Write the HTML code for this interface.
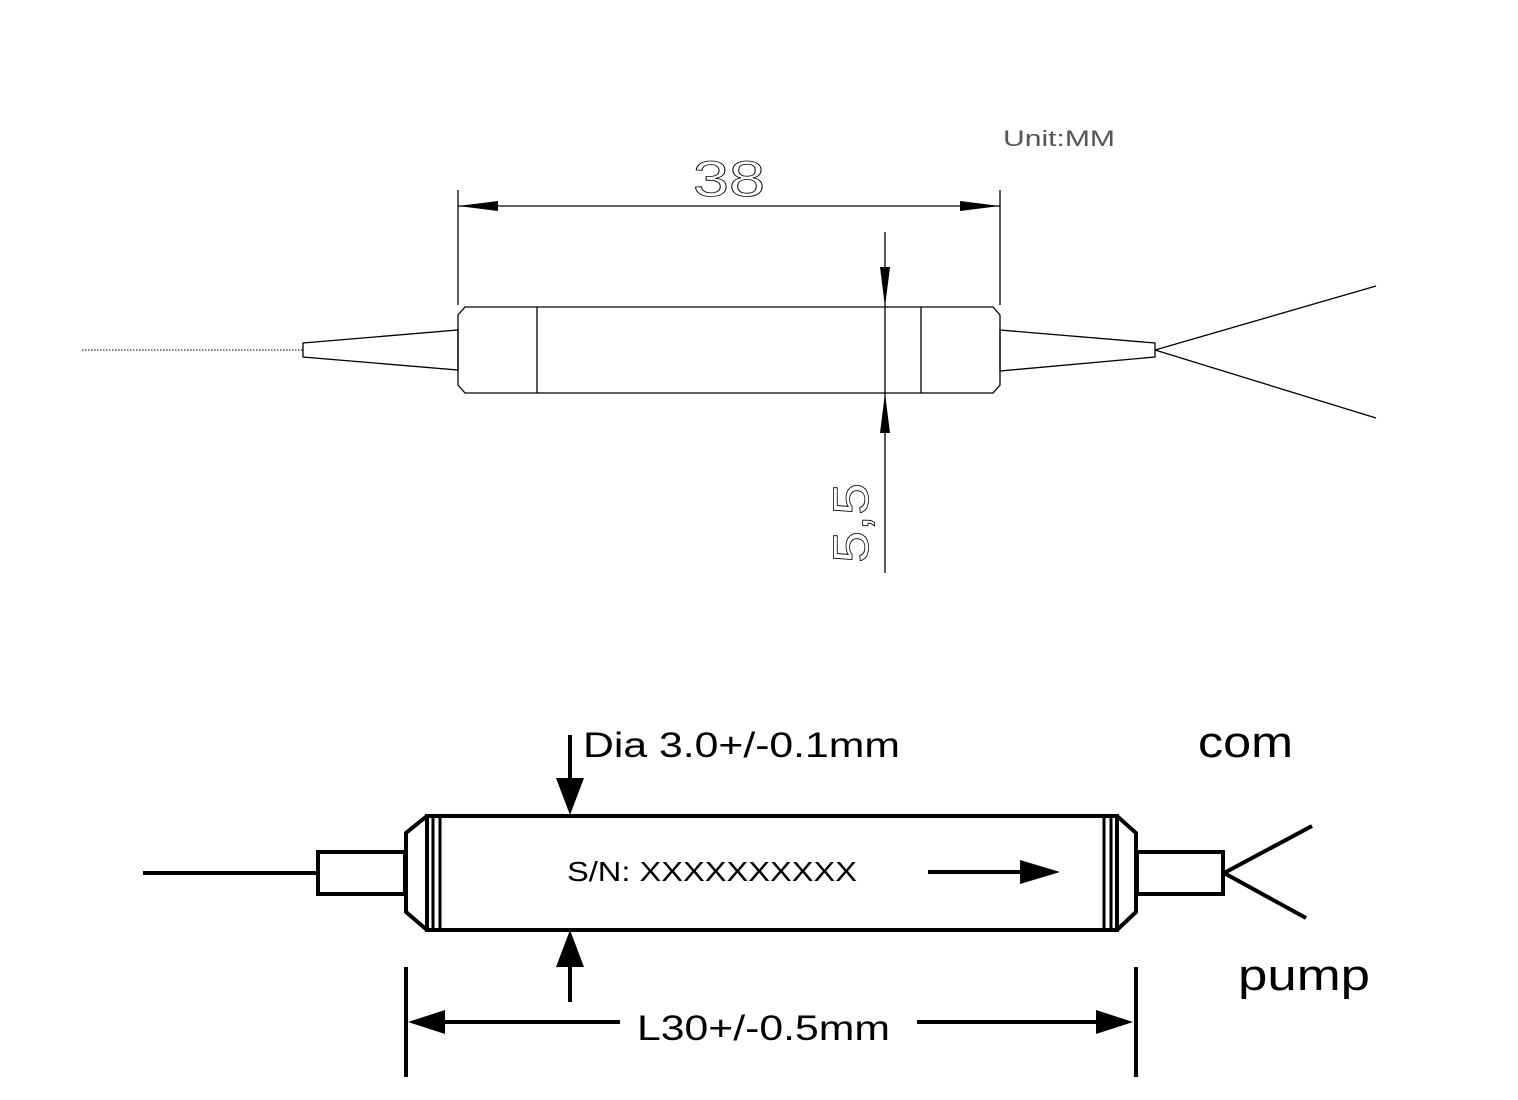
<!DOCTYPE html>
<html><head><style>body{margin:0;background:#fff}svg{display:block}</style></head><body>
<svg width="1518" height="1100" viewBox="0 0 1518 1100" xmlns="http://www.w3.org/2000/svg">
<g fill="none" stroke="#000" stroke-width="1.3">
<line x1="82" y1="350" x2="303" y2="350" stroke-dasharray="1.5,1.5" stroke-width="1"/>
<polygon points="303,343 458,330 458,370 303,357"/>
<polygon points="465,307 993,307 1000,315 1000,385 993,393 465,393 458,385 458,315"/>
<line x1="537" y1="307" x2="537" y2="393"/>
<line x1="921" y1="307" x2="921" y2="393"/>
<polygon points="1000,330 1155,343 1155,357 1000,371"/>
<line x1="1155" y1="350" x2="1376" y2="286"/>
<line x1="1155" y1="350" x2="1376" y2="418"/>
<line x1="458" y1="190" x2="458" y2="305"/>
<line x1="1000" y1="190" x2="1000" y2="305"/>
<line x1="458" y1="206" x2="1000" y2="206"/>
<line x1="885" y1="232" x2="885" y2="573"/>
</g>
<g fill="#000">
<polygon points="458,206 498,201 498,211"/>
<polygon points="1000,206 960,201 960,211"/>
<polygon points="885,307 880,267 890,267"/>
<polygon points="885,393 880,433 890,433"/>
</g>
<text x="693" y="196" textLength="72" lengthAdjust="spacingAndGlyphs" font-family="Liberation Sans, sans-serif" font-size="50" fill="none" stroke="#000" stroke-width="0.8">38</text>
<text x="1003" y="146" textLength="112" lengthAdjust="spacingAndGlyphs" font-family="Liberation Sans, sans-serif" font-size="22" fill="#555">Unit:MM</text>
<text transform="translate(868,563) rotate(-90)" textLength="80" lengthAdjust="spacingAndGlyphs" font-family="Liberation Sans, sans-serif" font-size="50" fill="none" stroke="#000" stroke-width="0.8">5,5</text>

<g fill="none" stroke="#000" stroke-width="4">
<line x1="143" y1="873" x2="318" y2="873"/>
<rect x="318" y="852" width="87" height="42"/>
<rect x="427" y="816" width="690" height="114"/>
<polyline points="427,816 406,833 406,912 427,930"/>
<line x1="433" y1="816" x2="433" y2="930" stroke-width="3"/>
<line x1="440" y1="816" x2="440" y2="930" stroke-width="3"/>
<line x1="1104" y1="816" x2="1104" y2="930" stroke-width="3"/>
<line x1="1111" y1="816" x2="1111" y2="930" stroke-width="3"/>
<polyline points="1117,816 1136,833 1136,912 1117,930"/>
<rect x="1137" y="852" width="86" height="42"/>
<line x1="1224" y1="873" x2="1312" y2="826"/>
<line x1="1224" y1="873" x2="1306" y2="918"/>
<line x1="570" y1="735" x2="570" y2="785"/>
<line x1="570" y1="1002" x2="570" y2="960"/>
<line x1="406" y1="967" x2="406" y2="1077"/>
<line x1="1136" y1="967" x2="1136" y2="1077"/>
<line x1="440" y1="1022" x2="620" y2="1022"/>
<line x1="917" y1="1022" x2="1100" y2="1022"/>
<line x1="928" y1="872" x2="1025" y2="872"/>
</g>
<g fill="#000">
<polygon points="570,815 556,778 584,778"/>
<polygon points="570,930 556,967 584,967"/>
<polygon points="408,1022 445,1010 445,1034"/>
<polygon points="1133,1022 1096,1010 1096,1034"/>
<polygon points="1060,872 1020,860 1020,884"/>
</g>
<g font-family="Liberation Sans, sans-serif" fill="#000">
<text x="583" y="757" font-size="35" textLength="317" lengthAdjust="spacingAndGlyphs">Dia 3.0+/-0.1mm</text>
<text x="567" y="881" font-size="28" textLength="290" lengthAdjust="spacingAndGlyphs">S/N: XXXXXXXXXX</text>
<text x="637" y="1040" font-size="35" textLength="253" lengthAdjust="spacingAndGlyphs">L30+/-0.5mm</text>
<text x="1198" y="757" font-size="44" textLength="95" lengthAdjust="spacingAndGlyphs">com</text>
<text x="1238" y="990" font-size="44" textLength="132" lengthAdjust="spacingAndGlyphs">pump</text>
</g>
</svg>
</body></html>
